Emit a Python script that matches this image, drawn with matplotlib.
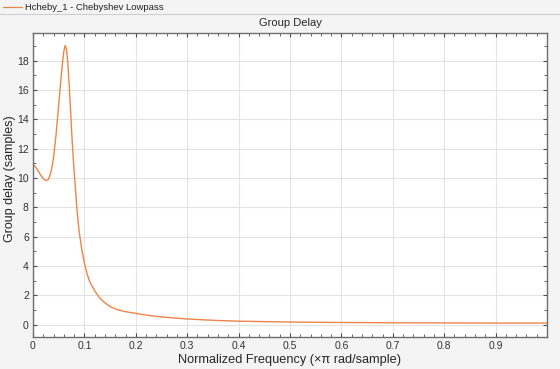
import numpy as np
import matplotlib.pyplot as plt
from matplotlib.lines import Line2D
from matplotlib.ticker import MultipleLocator

plt.rcParams['font.family'] = ['Liberation Sans', 'DejaVu Sans']

# normalized frequency (x pi rad/sample) and group delay (samples)
freq = [0.0, 0.005, 0.01, 0.015, 0.02, 0.025, 0.03, 0.035, 0.04, 0.045,
        0.05, 0.055, 0.0575, 0.06, 0.0625, 0.065, 0.0675, 0.07, 0.0725, 0.075,
        0.0775, 0.08, 0.0825, 0.085, 0.0875, 0.09, 0.095, 0.1, 0.105, 0.11,
        0.12, 0.13, 0.14, 0.15, 0.16, 0.17, 0.18, 0.2, 0.225, 0.25,
        0.3, 0.35, 0.4, 0.5, 0.6, 0.7, 0.8, 0.9, 1.0]
gdelay = [10.95, 10.75, 10.5, 10.2, 9.95, 9.82, 9.9, 10.4, 11.4, 13.0,
          15.0, 17.0, 17.9, 18.65, 19.05, 18.8, 18.0, 16.6, 15.0, 13.3,
          11.8, 10.5, 9.3, 8.1, 7.1, 6.3, 5.1, 4.2, 3.5, 2.95,
          2.3, 1.8, 1.48, 1.23, 1.07, 0.96, 0.88, 0.76, 0.62, 0.52,
          0.38, 0.29, 0.23, 0.17, 0.14, 0.12, 0.11, 0.1, 0.1]

line_color = '#EE8548'
bg = '#F4F4F4'

fig = plt.figure(figsize=(5.6, 3.69), dpi=100, facecolor=bg)
ax = fig.add_axes([33/560, 1 - 337/369, (547-33)/560, (337-33)/369])
ax.set_facecolor('white')

ax.plot(freq, gdelay, color=line_color, lw=1.0)

ax.set_xlim(0, 1)
ax.set_ylim(-0.85, 19.9)
ax.xaxis.set_minor_locator(MultipleLocator(0.02))
ax.yaxis.set_major_locator(MultipleLocator(2))
ax.yaxis.set_minor_locator(MultipleLocator(1))
ax.set_xticks(np.arange(0, 0.95, 0.1))
ax.set_xticklabels(['0'] + [f'{v:.1f}' for v in np.arange(0.1, 0.95, 0.1)])

ax.grid(True, which='major', color='#E3E3E3', lw=0.8)
ax.set_axisbelow(True)
ax.tick_params(which='both', direction='in', top=True, right=True,
               colors='#4A4A4A', labelcolor='#333333', labelsize=7.5)
ax.tick_params(which='major', length=3, width=0.8, pad=3)
ax.tick_params(which='minor', length=2, width=0.6)
for s in ax.spines.values():
    s.set_color('#6E6E6E')
    s.set_linewidth(1.0)

ax.set_xlabel('Normalized Frequency (×π rad/sample)', fontsize=9.2, color='#262626')
ax.set_ylabel('Group delay (samples)', fontsize=9, color='#262626')
# label anchors: top edge of the x label, right edge of the y label
ax.xaxis.set_label_coords(0.5, -(354 - 337) / 304, transform=ax.transAxes)
ax.yaxis.set_label_coords(-(33 - 16) / 514, 0.52, transform=ax.transAxes)
ax.set_title('Group Delay', fontsize=8, color='#262626', pad=5)

# legend bar at the top of the window
fig.add_artist(Line2D([3/560, 22/560], [1 - 7/369, 1 - 7/369], color=line_color, lw=0.9))
fig.text(25/560, 1 - 7/369, 'Hcheby_1 - Chebyshev Lowpass', fontsize=6.8, color='#222222', va='center')
fig.add_artist(Line2D([0, 1], [1 - 13.5/369, 1 - 13.5/369], color='#CFCFCF', lw=0.8))

fig.savefig('out.png', dpi=100, facecolor=bg)
